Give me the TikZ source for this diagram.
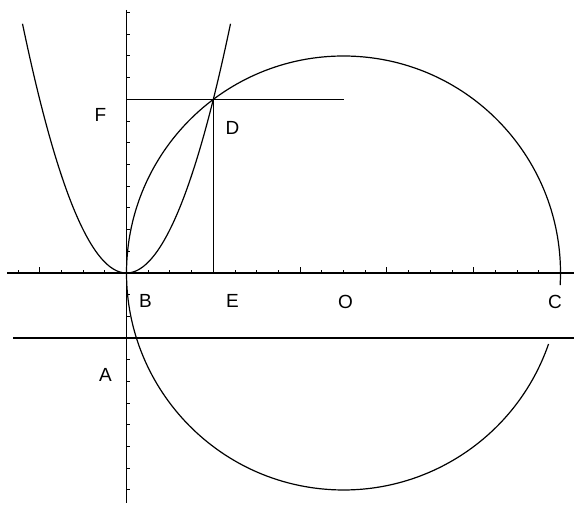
\documentclass[tikz,border=0pt]{standalone}
\usepackage{fontspec}
\setmainfont{Liberation Sans}
\begin{document}
\begin{tikzpicture}[x=1pt,y=1pt,line width=1.2pt,
  lbl/.style={font=\fontsize{19}{23}\selectfont,inner sep=0pt},
  axisline/.style={line width=1.5pt},
  tickmark/.style={line width=1pt}]
\useasboundingbox (0,0) rectangle (574,505);
% key points
\coordinate (B) at (126.5,232);
\coordinate (Xl) at (7,232);
\coordinate (Xr) at (574,232);
\coordinate (Yt) at (126.5,495);
\coordinate (Yb) at (126.5,2);
\coordinate (E) at (213.3,232);
\coordinate (D) at (213.3,405.6);
\coordinate (Fp) at (126.5,405.6);
\coordinate (Dr) at (343.5,405.6);
\coordinate (O) at (343.5,232);
\coordinate (Ll) at (13,167);
\coordinate (Lr) at (574,167);
% axes
\draw[axisline] (Xl) -- (Xr);
\draw[axisline] (Yt) -- (Yb);
\foreach \k in {-5,...,20}{
  \pgfmathsetmacro\tl{mod(\k,4)==0 ? 6 : 3}
  \draw[tickmark] ([xshift=\k*21.7]B) -- ++(0,\tl);
}
\foreach \k in {-10,...,12}{
  \draw[tickmark] ([yshift=\k*21.7]B) -- ++(3,0);
}
% lower horizontal line
\draw (Ll) -- (Lr);
% parabola
\draw plot[domain=-104:104,samples=120,smooth] ({126.5+\x},{232+\x*\x/43.4});
% circle with gap on the right
\draw (O) ++(-3.2:217) arc[start angle=-3.2,end angle=340.9,radius=217];
% construction lines
\draw (Fp) -- (Dr);
\draw (D) -- (E);
% labels
\node[lbl] (lF) at (100.5,390) {F};
\node[lbl] (lD) at (232.5,377) {D};
\node[lbl] (lB) at (145.5,204) {B};
\node[lbl] (lE) at (232.5,204) {E};
\node[lbl] (lO) at (345.5,203) {O};
\node[lbl] (lC) at (555,203) {C};
\node[lbl] (lA) at (105.5,130.5) {A};
\end{tikzpicture}
\end{document}
